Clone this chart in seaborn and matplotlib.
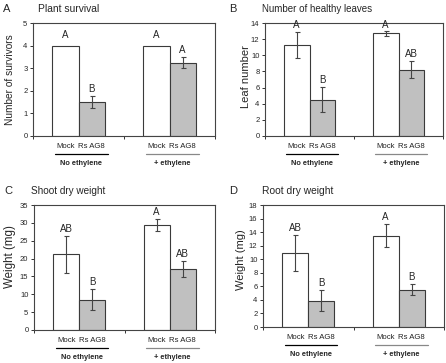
import seaborn as sns
import matplotlib.pyplot as plt
import matplotlib.transforms as mtransforms
import pandas as pd

# data (mean, error bar half-length)
conditions = ["No ethylene", "+ ethylene"]
treatments = ["Mock", "Rs AG8"]

survival_mean = [4.0, 1.5, 4.0, 3.25]
survival_err = [0.0, 0.27, 0.0, 0.23]
survival_letters = ["A", "B", "A", "A"]

leaves_mean = [11.3, 4.5, 12.7, 8.2]
leaves_err = [1.6, 1.55, 0.25, 1.05]
leaves_letters = ["A", "B", "A", "AB"]

shoot_mean = [21.2, 8.5, 29.4, 17.0]
shoot_err = [5.1, 3.0, 1.7, 2.2]
shoot_letters = ["AB", "B", "A", "AB"]

root_mean = [10.9, 3.9, 13.5, 5.5]
root_err = [2.7, 1.55, 1.75, 0.8]
root_letters = ["AB", "B", "A", "B"]

sns.set_style("ticks")
plt.rcParams["font.family"] = ["Liberation Sans", "DejaVu Sans"]

W, H = 446, 363
fig = plt.figure(figsize=(W / 100, H / 100), dpi=100)


def px_axes(left, right, top, bottom):
    return fig.add_axes([left / W, 1 - bottom / H, (right - left) / W, (bottom - top) / H])


def panel(ax, means, errs, letters, ymax, ystep, ylabel, lab_px, lab_y, lab_size):
    rows = []
    i = 0
    for c in conditions:
        for t in treatments:
            rows.append({"condition": c, "treatment": t, "value": means[i]})
            i += 1
    df = pd.DataFrame(rows)
    sns.barplot(data=df, x="condition", y="value", hue="treatment",
                order=conditions, hue_order=treatments,
                palette={"Mock": "white", "Rs AG8": "#c0c0c0"},
                width=0.58, errorbar=None, legend=False,
                edgecolor="#3a3a3a", linewidth=0.8, ax=ax)
    bars = sorted(ax.patches, key=lambda p: p.get_x())
    xs = [p.get_x() + p.get_width() / 2 for p in bars]
    tops = [p.get_height() for p in bars]
    for x, y, e, let in zip(xs, tops, errs, letters):
        if e > 0:
            ax.errorbar(x, y, yerr=e, fmt="none", ecolor="#444444",
                        elinewidth=0.8, capsize=1.8, capthick=0.8)
        off = 5 if e > 0 else 7.5
        ax.annotate(let, xy=(x, y + e), xytext=(0, off), textcoords="offset points",
                    ha="center", va="center", fontsize=7)

    ax.set_xlim(-0.5, 1.5)
    ax.set_ylim(0, ymax)
    ax.set_yticks(range(0, ymax + 1, ystep))
    ax.set_xticks([-0.5, 0.5, 1.5])
    ax.set_xticklabels([])
    ax.set_xlabel("")
    ax.set_ylabel(ylabel, fontsize=lab_size)
    pos = ax.get_position()
    ax.yaxis.set_label_coords(-lab_px / (pos.width * W), lab_y)
    ax.tick_params(axis="both", direction="out", length=2.5, width=0.7,
                   labelsize=5.5, pad=1.5, color="#333333")
    for s in ax.spines.values():
        s.set_visible(True)
        s.set_color("#444444")
        s.set_linewidth(0.8)

    # treatment labels under each bar
    xt = ax.get_xaxis_transform()
    names = treatments * len(conditions)
    for x, name in zip(xs, names):
        ax.annotate(name, xy=(x, 0), xycoords=xt, xytext=(0, -7.5),
                    textcoords="offset points", ha="center", va="center",
                    fontsize=5.6, color="#222222", annotation_clip=False)
    # group lines and labels
    line_tr = mtransforms.offset_copy(xt, fig=fig, y=-18, units="dots")
    for g, cond in enumerate(conditions):
        b0, b1 = bars[2 * g], bars[2 * g + 1]
        x0 = b0.get_x() + 0.03
        x1 = b1.get_x() + b1.get_width() + 0.03
        col = "black" if g == 0 else "#888888"
        ax.plot([x0, x1], [0, 0], transform=line_tr, color=col, lw=0.9, clip_on=False)
        ax.annotate(cond, xy=((x0 + x1) / 2, 0), xycoords=xt, xytext=(0, -19.5),
                    textcoords="offset points", ha="center", va="center",
                    fontsize=5.3, fontweight="bold", annotation_clip=False)


axA = px_axes(33, 215, 23, 136)
axB = px_axes(265, 443, 23, 136)
axC = px_axes(34, 215, 205, 330)
axD = px_axes(263, 444, 205, 327)

panel(axA, survival_mean, survival_err, survival_letters, 5, 1, "Number of survivors", 18, 0.5, 7.3)
panel(axB, leaves_mean, leaves_err, leaves_letters, 14, 2, "Leaf number", 14, 0.53, 8.0)
panel(axC, shoot_mean, shoot_err, shoot_letters, 35, 5, "Weight (mg)", 18, 0.59, 8.3)
panel(axD, root_mean, root_err, root_letters, 18, 2, "Weight (mg)", 17, 0.55, 8.0)

heads = [("A", 3, 38, 9, "Plant survival", 7.4),
         ("B", 229, 262, 9, "Number of healthy leaves", 7.0),
         ("C", 4, 31, 191, "Shoot dry weight", 7.2),
         ("D", 229, 262, 191, "Root dry weight", 7.4)]
for letter, lx, tx, ty, title, fs in heads:
    fig.text(lx / W, 1 - ty / H, letter, fontsize=8, va="center", ha="left")
    fig.text(tx / W, 1 - ty / H, title, fontsize=fs, va="center", ha="left")

fig.savefig("out.png", dpi=100)
